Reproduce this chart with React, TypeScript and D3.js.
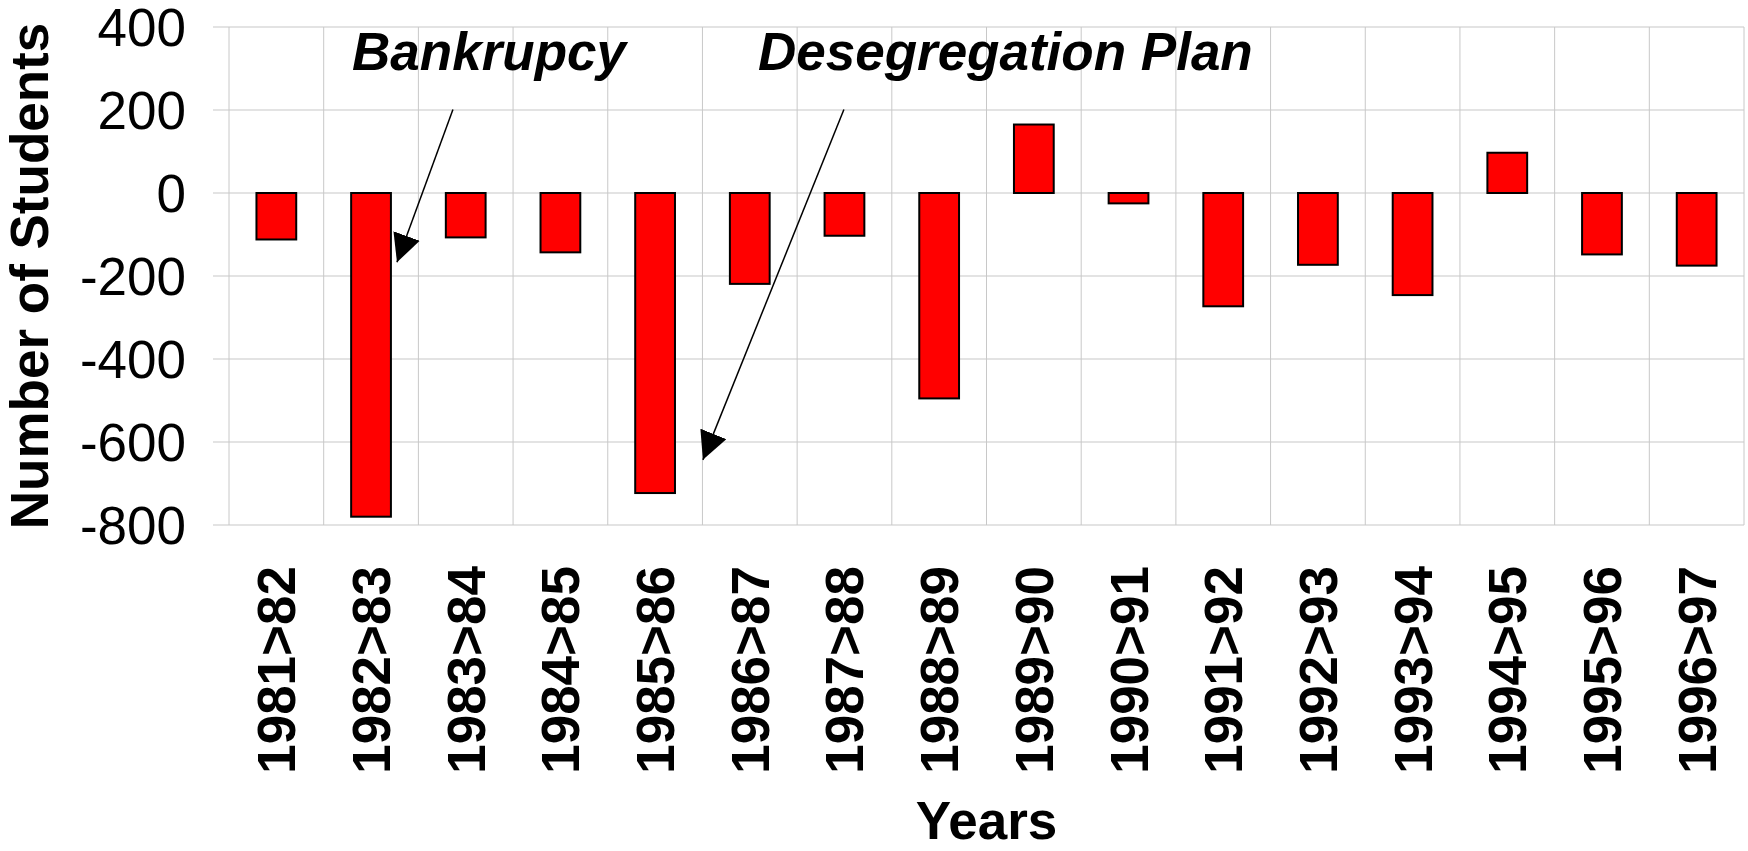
import React from 'react';
import * as d3 from 'd3';

const categories = ['1981>82', '1982>83', '1983>84', '1984>85', '1985>86', '1986>87', '1987>88', '1988>89',
  '1989>90', '1990>91', '1991>92', '1992>93', '1993>94', '1994>95', '1995>96', '1996>97'];
const changes = [-112, -780, -107, -143, -723, -219, -103, -495, 165, -25, -273, -173, -246, 97, -148, -175];
const yTicks = [400, 200, 0, -200, -400, -600, -800];

// annotation points are in (category units, students)
const notes = [
  { label: 'Bankrupcy', text: [1.3, 296], from: [2.365, 201], to: [1.774, -167] },
  { label: 'Desegregation Plan', text: [5.586, 296], from: [6.494, 201], to: [5.005, -643] },
];

const W = 1748, H = 851;
const left = 229, right = 1744, top = 27, bottom = 525;
const font = '"Liberation Sans", Arial, sans-serif';

export default function App() {
  const x = d3.scaleBand().domain(categories).range([left, right]);
  const xu = d3.scaleLinear().domain([0, categories.length]).range([left, right]);
  const y = d3.scaleLinear().domain([-800, 400]).range([bottom, top]);
  const bw = x.bandwidth() * 0.42;
  const grid = '#c8c8c8';

  return (
    <svg width={W} height={H} style={{ position: 'absolute', left: 0, top: 0, background: '#fff' }} fontFamily={font}>
      <defs>
        <marker id="head" markerUnits="userSpaceOnUse" markerWidth={28} markerHeight={28}
          refX={28} refY={14} orient="auto" viewBox="0 0 28 28">
          <path d="M0,0 L28,14 L0,28 Z" fill="#000" />
        </marker>
      </defs>
      {yTicks.map(t => (
        <line key={'h' + t} x1={left - 16} x2={right} y1={y(t)} y2={y(t)} stroke={grid} strokeWidth={1.2} />
      ))}
      {d3.range(categories.length + 1).map(i => (
        <line key={'v' + i} x1={xu(i)} x2={xu(i)} y1={top} y2={bottom} stroke={grid} strokeWidth={1} />
      ))}
      {categories.map((c, i) => {
        const v = changes[i];
        const cx = x(c)! + x.bandwidth() / 2;
        return (
          <rect key={c} x={cx - bw / 2} y={y(Math.max(0, v))} width={bw} height={Math.abs(y(v) - y(0))}
            fill="#ff0000" stroke="#000" strokeWidth={2} />
        );
      })}
      {yTicks.map(t => (
        <text key={'t' + t} x={186} y={y(t) + 19} textAnchor="end" fontSize={53}>{String(t)}</text>
      ))}
      {categories.map(c => {
        const cx = x(c)! + x.bandwidth() / 2;
        return (
          <text key={'l' + c} transform={`translate(${cx + 19},566) rotate(-90)`} textAnchor="end"
            fontSize={53} fontWeight="bold">{c}</text>
        );
      })}
      <text transform="translate(48,276) rotate(-90)" textAnchor="middle" fontSize={53} fontWeight="bold">
        Number of Students
      </text>
      <text x={(left + right) / 2} y={839} textAnchor="middle" fontSize={53} fontWeight="bold">Years</text>
      {notes.map(n => (
        <g key={n.label}>
          <text x={xu(n.text[0])} y={y(n.text[1])} fontSize={53} fontWeight="bold" fontStyle="italic">{n.label}</text>
          <line x1={xu(n.from[0])} y1={y(n.from[1])} x2={xu(n.to[0])} y2={y(n.to[1])}
            stroke="#000" strokeWidth={1.5} markerEnd="url(#head)" />
        </g>
      ))}
    </svg>
  );
}
